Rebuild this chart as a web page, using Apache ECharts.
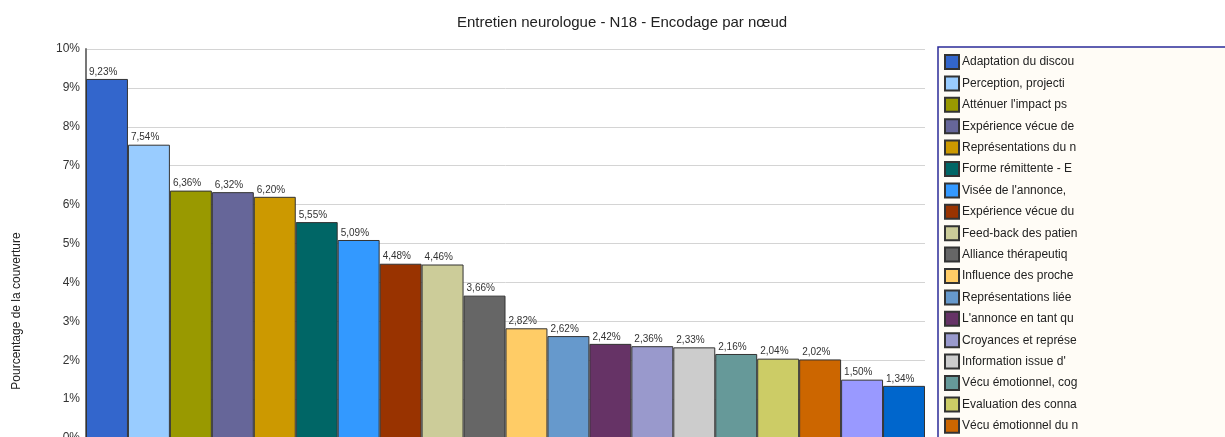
<!DOCTYPE html>
<html>
<head>
<meta charset="utf-8">
<script src="https://cdn.jsdelivr.net/npm/echarts@6/dist/echarts.min.js"></script>
<style>
  html, body { margin: 0; padding: 0; background: #fff; }
  #chart { width: 1225px; height: 437px; }
</style>
</head>
<body>
<div id="chart"></div>
<script>
const TITLE = "Entretien neurologue - N18 - Encodage par nœud"
const Y_NAME = "Pourcentage de la couverture"

// noms des noeuds (tronqués comme dans la légende d'origine)
const categories = [
    "Adaptation du discou",
    "Perception, projecti",
    "Atténuer l'impact ps",
    "Expérience vécue de",
    "Représentations du n",
    "Forme rémittente - E",
    "Visée de l'annonce,",
    "Expérience vécue du",
    "Feed-back des patien",
    "Alliance thérapeutiq",
    "Influence des proche",
    "Représentations liée",
    "L'annonce en tant qu",
    "Croyances et représe",
    "Information issue d'",
    "Vécu émotionnel, cog",
    "Evaluation des conna",
    "Vécu émotionnel du n",
    "Attentes du patient",
    "Annonce du diagnost"
]

// pourcentage de couverture
const values = [9.23, 7.54, 6.36, 6.32, 6.20, 5.55, 5.09, 4.48, 4.46, 3.66,
                2.82, 2.62, 2.42, 2.36, 2.33, 2.16, 2.04, 2.02, 1.50, 1.34]

const colors = ["#3366CC", "#99CCFF", "#999900", "#666699", "#CC9900",
                "#006666", "#3399FF", "#993300", "#CCCC99", "#666666",
                "#FFCC66", "#6699CC", "#663366", "#9999CC", "#CCCCCC",
                "#669999", "#CCCC66", "#CC6600", "#9999FF", "#0066CC"]

const Y_MIN = 0
const Y_MAX = 10
const Y_STEP = 1

const FONT = '"Liberation Sans", Arial, sans-serif'

function fmtPct(v) {
    return v.toFixed(2).replace(".", ",") + "%"
}

const chart = echarts.init(document.getElementById("chart"))

const series = categories.map((name, i) => ({
    name: name,
    type: "bar",
    stack: "total",
    barCategoryGap: "0%",
    data: values.map((v, j) => j === i ? v : "-"),
    itemStyle: {
        color: colors[i],
        borderColor: "#333333",
        borderWidth: 1
    },
    label: {
        show: true,
        position: [3, -12],
        fontSize: 10,
        fontFamily: FONT,
        color: "#333",
        formatter: p => fmtPct(p.value)
    }
}))

const option = {
    animation: false,
    backgroundColor: "#ffffff",
    title: {
        text: TITLE,
        left: 452,
        top: 10,
        textStyle: {
            fontSize: 15,
            fontWeight: "normal",
            color: "#222",
            fontFamily: FONT
        }
    },
    graphic: [{
        type: "text",
        x: 17,
        y: 311,
        rotation: Math.PI / 2,
        style: {
            text: Y_NAME,
            fontSize: 12,
            fontFamily: FONT,
            fill: "#222",
            align: "center",
            verticalAlign: "middle"
        }
    }],
    legend: {
        orient: "vertical",
        left: 938,
        top: 47,
        height: 700,
        padding: [7, 200, 7, 6],
        itemWidth: 14,
        itemHeight: 14,
        itemGap: 5.4,
        icon: "rect",
        backgroundColor: "#FFFCF6",
        borderColor: "#2B2B99",
        borderWidth: 1.5,
        textStyle: {
            fontSize: 12,
            lineHeight: 14,
            fontFamily: FONT,
            color: "#222",
            padding: [0, 0, 0, -2]
        },
        data: categories
    },
    grid: {
        left: 86,
        top: 49,
        width: 839,
        height: 389,
        outerBoundsMode: "none",
        containLabel: false
    },
    xAxis: {
        type: "category",
        data: categories,
        axisLabel: { show: false },
        axisTick: { show: false },
        axisLine: { lineStyle: { color: "#777" } }
    },
    yAxis: {
        type: "value",
        min: Y_MIN,
        max: Y_MAX,
        interval: Y_STEP,
        axisLine: { show: true, lineStyle: { color: "#777", width: 2 } },
        axisTick: { show: false },
        splitLine: { lineStyle: { color: "#d4d4d4", width: 1 } },
        axisLabel: {
            margin: 6,
            fontSize: 12,
            fontFamily: FONT,
            color: "#333",
            formatter: "{value}%"
        }
    },
    series: series
}

chart.setOption(option)
</script>
</body>
</html>
